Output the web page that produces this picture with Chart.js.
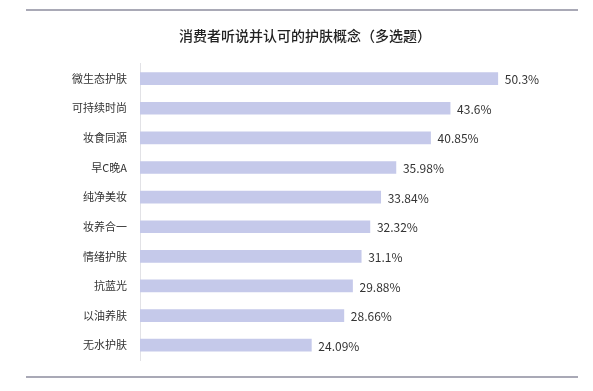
<!DOCTYPE html>
<html>
<head>
<meta charset="utf-8">
<script src="https://cdn.jsdelivr.net/npm/chart.js@4"></script>
<style>
  html, body { margin: 0; padding: 0; background: #fff; }
  #wrap { width: 593px; height: 391px; }
</style>
</head>
<body>
<div id="wrap"><canvas id="conceptChart" width="593" height="391"></canvas></div>
<script>
var categories = ['微生态护肤', '可持续时尚', '妆食同源', '早C晚A', '纯净美妆', '妆养合一', '情绪护肤', '抗蓝光', '以油养肤', '无水护肤'];
var shares = [50.3, 43.6, 40.85, 35.98, 33.84, 32.32, 31.1, 29.88, 28.66, 24.09];

var FONT = '"Noto Sans CJK SC", "Noto Sans", sans-serif';

// value labels at the end of each bar
var valueLabels = {
    id: 'valueLabels',
    afterDatasetsDraw: function (chart) {
        var ctx = chart.ctx;
        var meta = chart.getDatasetMeta(0);
        ctx.save();
        ctx.font = '12px ' + FONT;
        ctx.fillStyle = '#333333';
        ctx.textAlign = 'left';
        ctx.textBaseline = 'middle';
        meta.data.forEach(function (bar, i) {
            ctx.fillText(shares[i] + '%', bar.x + 7, bar.y + 1);
        });
        ctx.restore();
    }
};

// grey rules above and below the chart
var frameLines = {
    id: 'frameLines',
    afterDraw: function (chart) {
        var ctx = chart.ctx;
        ctx.save();
        ctx.strokeStyle = '#a9a9b6';
        ctx.lineWidth = 2;
        ctx.beginPath();
        ctx.moveTo(26, 10);
        ctx.lineTo(578, 10);
        ctx.moveTo(26, 377);
        ctx.lineTo(578, 377);
        ctx.stroke();
        ctx.restore();
    }
};

var ctx = document.getElementById('conceptChart').getContext('2d');
var conceptChart = new Chart(ctx, {
    type: 'bar',
    data: {
        labels: categories,
        datasets: [{
            label: '认可比例',
            data: shares,
            backgroundColor: '#c5c9ea',
            barThickness: 12
        }]
    },
    options: {
        indexAxis: 'y',
        responsive: false,
        animation: false,
        layout: {
            padding: { left: 29, right: 12, top: 0, bottom: 31 }
        },
        scales: {
            x: {
                display: false,
                min: 0,
                max: 62
            },
            y: {
                afterFit: function (scale) { scale.width = 111; },
                grid: { display: false, drawTicks: false },
                border: { display: true, color: '#e2e2e6', width: 1 },
                ticks: {
                    padding: 13,
                    color: '#333333',
                    font: { family: FONT, size: 11 }
                }
            }
        },
        plugins: {
            legend: { display: false },
            tooltip: { enabled: false },
            title: {
                display: true,
                text: '消费者听说并认可的护肤概念（多选题）',
                color: '#222222',
                font: { family: FONT, size: 14, weight: '500' },
                padding: { top: 27, bottom: 20 }
            }
        }
    },
    plugins: [valueLabels, frameLines]
});
</script>
</body>
</html>
